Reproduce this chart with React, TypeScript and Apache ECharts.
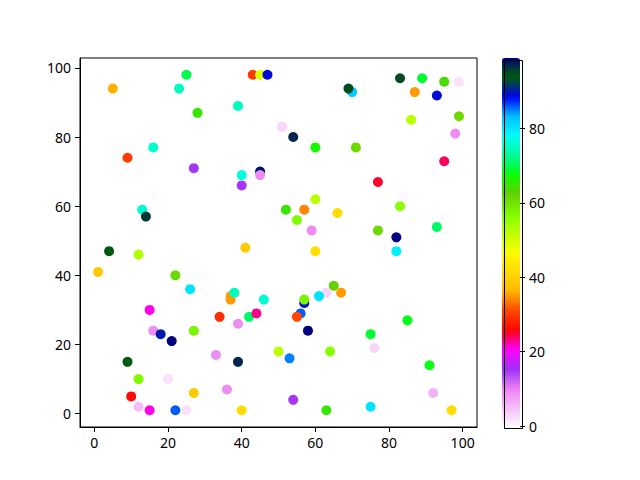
import React, { useEffect, useRef } from "react";
import * as echarts from "echarts";

const xs = [25, 5, 23, 43, 45, 47, 39, 28, 51, 16, 9, 27, 40, 45, 45, 40, 13, 14, 41, 83, 89, 95, 99, 70, 69, 87, 93, 86, 99, 98, 54, 60, 71, 95, 77, 84, 60, 83, 52, 57, 66, 55, 59, 77, 82, 93, 4, 12, 1, 22, 26, 37, 37, 38, 46, 15, 34, 42, 44, 39, 16, 18, 21, 27, 50, 33, 9, 39, 12, 20, 27, 36, 10, 12, 15, 22, 25, 40, 60, 82, 65, 63, 67, 61, 57, 57, 56, 55, 58, 85, 75, 76, 53, 64, 91, 92, 54, 63, 75, 97];
const ys = [98, 94, 94, 98, 98, 98, 89, 87, 83, 77, 74, 71, 69, 70, 69, 66, 59, 57, 48, 97, 97, 96, 96, 93, 94, 93, 92, 85, 86, 81, 80, 77, 77, 73, 67, 63, 62, 60, 59, 59, 58, 56, 53, 53, 51, 54, 47, 46, 41, 40, 36, 34, 33, 35, 33, 30, 28, 28, 29, 26, 24, 23, 21, 24, 18, 17, 15, 15, 10, 10, 6, 7, 5, 2, 1, 1, 1, 1, 47, 47, 37, 35, 35, 34, 32, 33, 29, 28, 24, 27, 23, 19, 16, 18, 14, 6, 4, 1, 2, 1];
const cs = [70, 36, 75, 30, 49, 89, 75, 65, 3, 76, 30, 15, 77, 98, 9, 15, 76, 96, 39, 95, 69, 64, 2, 82, 95, 35, 89, 52, 61, 9, 97, 67, 61, 24, 25, 0, 52, 56, 65, 34, 42, 57, 9, 61, 99, 71, 94, 53, 39, 61, 80, 35, 35, 75, 76, 21, 29, 71, 23, 9, 9, 90, 99, 58, 52, 9, 94, 97, 57, 2, 39, 9, 26, 5, 21, 86, 2, 42, 42, 79, 62, 3, 35, 80, 89, 58, 86, 31, 99, 68, 69, 3, 85, 56, 68, 6, 15, 65, 80, 42];

const axisTicks = [0, 20, 40, 60, 80, 100];
const colorbarTicks = [0, 20, 40, 60, 80];
const cMin = 0;
const cMax = 99;

// gist_ncar colormap segments (used reversed)
const R: number[][] = [[0, 0], [0.3098, 0], [0.3725, 0.3993], [0.4235, 0.5003], [0.5333, 1], [0.7922, 1], [0.8471, 0.6218], [0.898, 0.9235], [1, 0.9961]];
const G: number[][] = [[0, 0], [0.051, 0.3722], [0.1059, 0], [0.1569, 0.7202], [0.1608, 0.7537], [0.1647, 0.7752], [0.2157, 1], [0.2588, 0.9804], [0.2706, 0.9804], [0.3176, 1], [0.3686, 0.8081], [0.4275, 1], [0.5216, 1], [0.6314, 0.7292], [0.6863, 0.2796], [0.7451, 0], [0.7922, 0], [0.8431, 0.1753], [0.898, 0.5], [1, 0.9725]];
const B: number[][] = [[0, 0.502], [0.051, 0.0222], [0.1098, 1], [0.2039, 1], [0.2627, 0.6145], [0.3216, 0], [0.7373, 0], [0.7922, 1], [0.898, 0.95], [1, 0.9961]];

function seg(s: number[][], t: number): number {
  for (let i = 1; i < s.length; i++) {
    if (t <= s[i][0]) {
      const [t0, v0] = s[i - 1];
      const [t1, v1] = s[i];
      const f = t1 === t0 ? 0 : (t - t0) / (t1 - t0);
      return v0 + (v1 - v0) * f;
    }
  }
  return s[s.length - 1][1];
}

function cmap(v: number): string {
  const t = 1 - v; // reversed
  const r = Math.round(seg(R, t) * 255);
  const g = Math.round(seg(G, t) * 255);
  const b = Math.round(seg(B, t) * 255);
  return `rgb(${r},${g},${b})`;
}

const N = 128;
const gradient: string[] = [];
for (let i = 0; i < N; i++) gradient.push(cmap(i / (N - 1)));

const FONT = "Noto Sans";

export default function App() {
  const ref = useRef<HTMLDivElement>(null);
  useEffect(() => {
    if (!ref.current) return;
    const chart = echarts.init(ref.current, undefined, { renderer: "svg" });
    const data = xs.map((x, i) => [x, ys[i], cs[i]]);
    const labelStyle = { color: "#000", fontSize: 14, fontFamily: FONT };
    chart.setOption({
      animation: false,
      backgroundColor: "#fff",
      grid: [
        { left: 80, top: 58, width: 397, height: 369, show: true, borderColor: "#000", borderWidth: 1, backgroundColor: "transparent" },
        { left: 502, top: 58, width: 18, height: 368 },
      ],
      xAxis: [
        {
          type: "value", gridIndex: 0, min: -3.9, max: 103.9,
          axisLine: { show: true, onZero: false, lineStyle: { color: "#000" } },
          axisTick: { show: true, length: 5, lineStyle: { color: "#000" }, customValues: axisTicks },
          axisLabel: { ...labelStyle, margin: 8, customValues: axisTicks },
          splitLine: { show: false },
        },
        { type: "value", gridIndex: 1, show: false, min: 0, max: 1 },
      ],
      yAxis: [
        {
          type: "value", gridIndex: 0, min: -3.85, max: 102.85,
          axisLine: { show: true, onZero: false, lineStyle: { color: "#000" } },
          axisTick: { show: true, length: 5, lineStyle: { color: "#000" }, customValues: axisTicks },
          axisLabel: { ...labelStyle, margin: 9, customValues: axisTicks },
          splitLine: { show: false },
        },
        {
          type: "value", gridIndex: 1, position: "right", min: cMin, max: cMax,
          axisLine: { show: false, onZero: false },
          axisTick: { show: true, length: 5, lineStyle: { color: "#000" }, customValues: colorbarTicks },
          axisLabel: { ...labelStyle, margin: 9, customValues: colorbarTicks },
          splitLine: { show: false },
        },
      ],
      visualMap: {
        type: "continuous",
        min: cMin,
        max: cMax,
        dimension: 2,
        seriesIndex: 0,
        calculable: false,
        orient: "vertical",
        left: 502,
        top: 58,
        padding: 0,
        itemWidth: 18,
        itemHeight: 368,
        inRange: { color: gradient },
        hoverLink: false,
      },
      graphic: [
        { type: "rect", left: 502, top: 58, shape: { width: 18, height: 368 }, style: { fill: "none", stroke: "#000", lineWidth: 1 }, z: 100 },
      ],
      series: [
        {
          type: "scatter",
          xAxisIndex: 0,
          yAxisIndex: 0,
          data,
          symbol: "circle",
          symbolSize: 10,
          itemStyle: { opacity: 1 },
        },
      ],
    });
    return () => chart.dispose();
  }, []);
  return <div ref={ref} style={{ width: 640, height: 480, marginLeft: -8, marginTop: -8 }} />;
}
